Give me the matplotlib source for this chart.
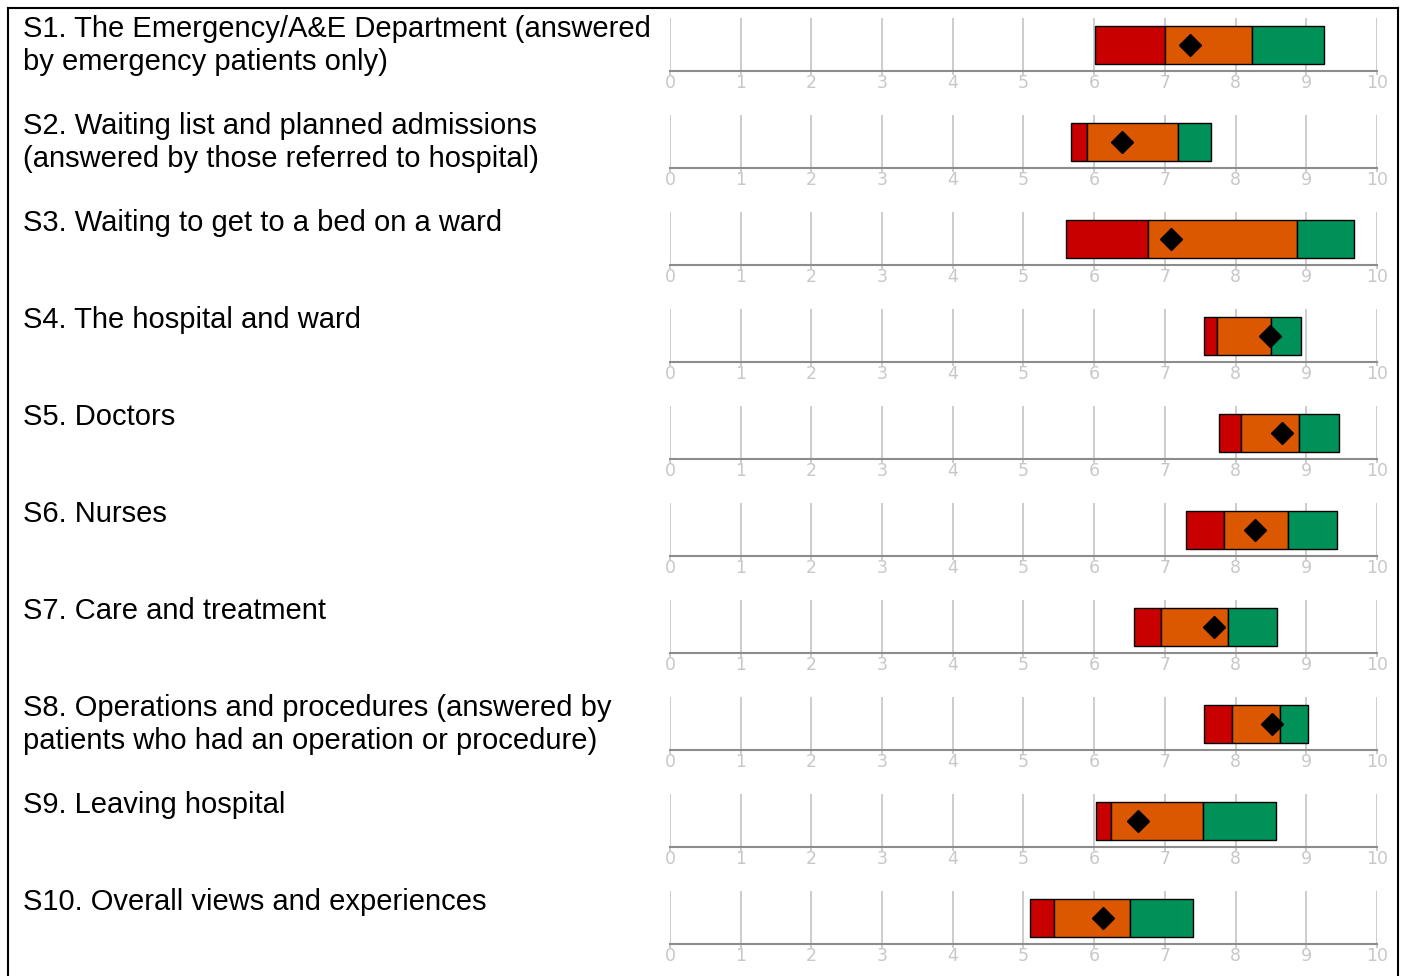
import matplotlib
matplotlib.use("Agg")
import matplotlib.pyplot as plt
from matplotlib.lines import Line2D

labels = [
    "S1. The Emergency/A&E Department (answered\nby emergency patients only)",
    "S2. Waiting list and planned admissions\n(answered by those referred to hospital)",
    "S3. Waiting to get to a bed on a ward",
    "S4. The hospital and ward",
    "S5. Doctors",
    "S6. Nurses",
    "S7. Care and treatment",
    "S8. Operations and procedures (answered by\npatients who had an operation or procedure)",
    "S9. Leaving hospital",
    "S10. Overall views and experiences",
]
# band boundaries: lowest score, red/orange boundary, orange/green boundary, highest score
band_start = [6.01, 5.67, 5.60, 7.55, 7.76, 7.30, 6.56, 7.55, 6.03, 5.09]
red_end    = [7.00, 5.90, 6.76, 7.74, 8.08, 7.84, 6.95, 7.95, 6.24, 5.43]
orange_end = [8.23, 7.18, 8.87, 8.50, 8.89, 8.74, 7.89, 8.63, 7.54, 6.51]
green_end  = [9.25, 7.65, 9.68, 8.93, 9.46, 9.43, 8.58, 9.02, 8.57, 7.40]
trust_score = [7.35, 6.40, 7.08, 8.49, 8.65, 8.27, 7.70, 8.52, 6.62, 6.12]
ticks = list(range(0, 11))

RED = "#c80000"
ORANGE = "#dc5800"
GREEN = "#009158"

W, H = 1404, 976
fig = plt.figure(figsize=(W / 100, H / 100), dpi=100)

def fx(px):
    return px / W

def fy(py):
    return 1 - py / H

# frame
for xs, ys in [([8, 8], [8, 976]), ([8, 1398], [8, 8]), ([1398, 1398], [8, 976])]:
    fig.add_artist(Line2D([fx(x) for x in xs], [fy(y) for y in ys], color="black", lw=1.5,
                          transform=fig.transFigure))

pitch = 97
for i, lab in enumerate(labels):
    top = 18 + pitch * i
    bottom = 71 + pitch * i
    ax = fig.add_axes([fx(670), fy(bottom), fx(1377) - fx(670), (bottom - top) / H])
    ax.set_xlim(0, 10)
    ax.set_ylim(0, 1)
    for t in ticks:
        ax.axvline(t, color="#c4c4c4", lw=1.2, zorder=0)
    s = band_start[i]
    ax.barh(0.49, red_end[i] - s, left=s, height=0.717, color=RED, edgecolor="black", lw=1, zorder=2)
    ax.barh(0.49, orange_end[i] - red_end[i], left=red_end[i], height=0.717, color=ORANGE,
            edgecolor="black", lw=1, zorder=2)
    ax.barh(0.49, green_end[i] - orange_end[i], left=orange_end[i], height=0.717, color=GREEN,
            edgecolor="black", lw=1, zorder=2)
    ax.plot([trust_score[i]], [0.49], marker="D", color="black", markersize=11, zorder=3)
    for sp in ["top", "right", "left"]:
        ax.spines[sp].set_visible(False)
    ax.spines["bottom"].set_color("#8c8c8c")
    ax.spines["bottom"].set_linewidth(1.5)
    ax.set_yticks([])
    ax.set_xticks(ticks)
    ax.set_xticklabels([str(t) for t in ticks])
    ax.tick_params(axis="x", colors="#c4c4c4", labelcolor="#c8c8c8", length=3, width=1.2,
                   labelsize=12.5, pad=-1)
    ax.patch.set_alpha(0)
    fig.text(fx(23), fy(15 + pitch * i), lab, ha="left", va="top", fontsize=21,
             family="Liberation Sans", color="black", linespacing=1.22)

fig.savefig("out.png", dpi=100)
